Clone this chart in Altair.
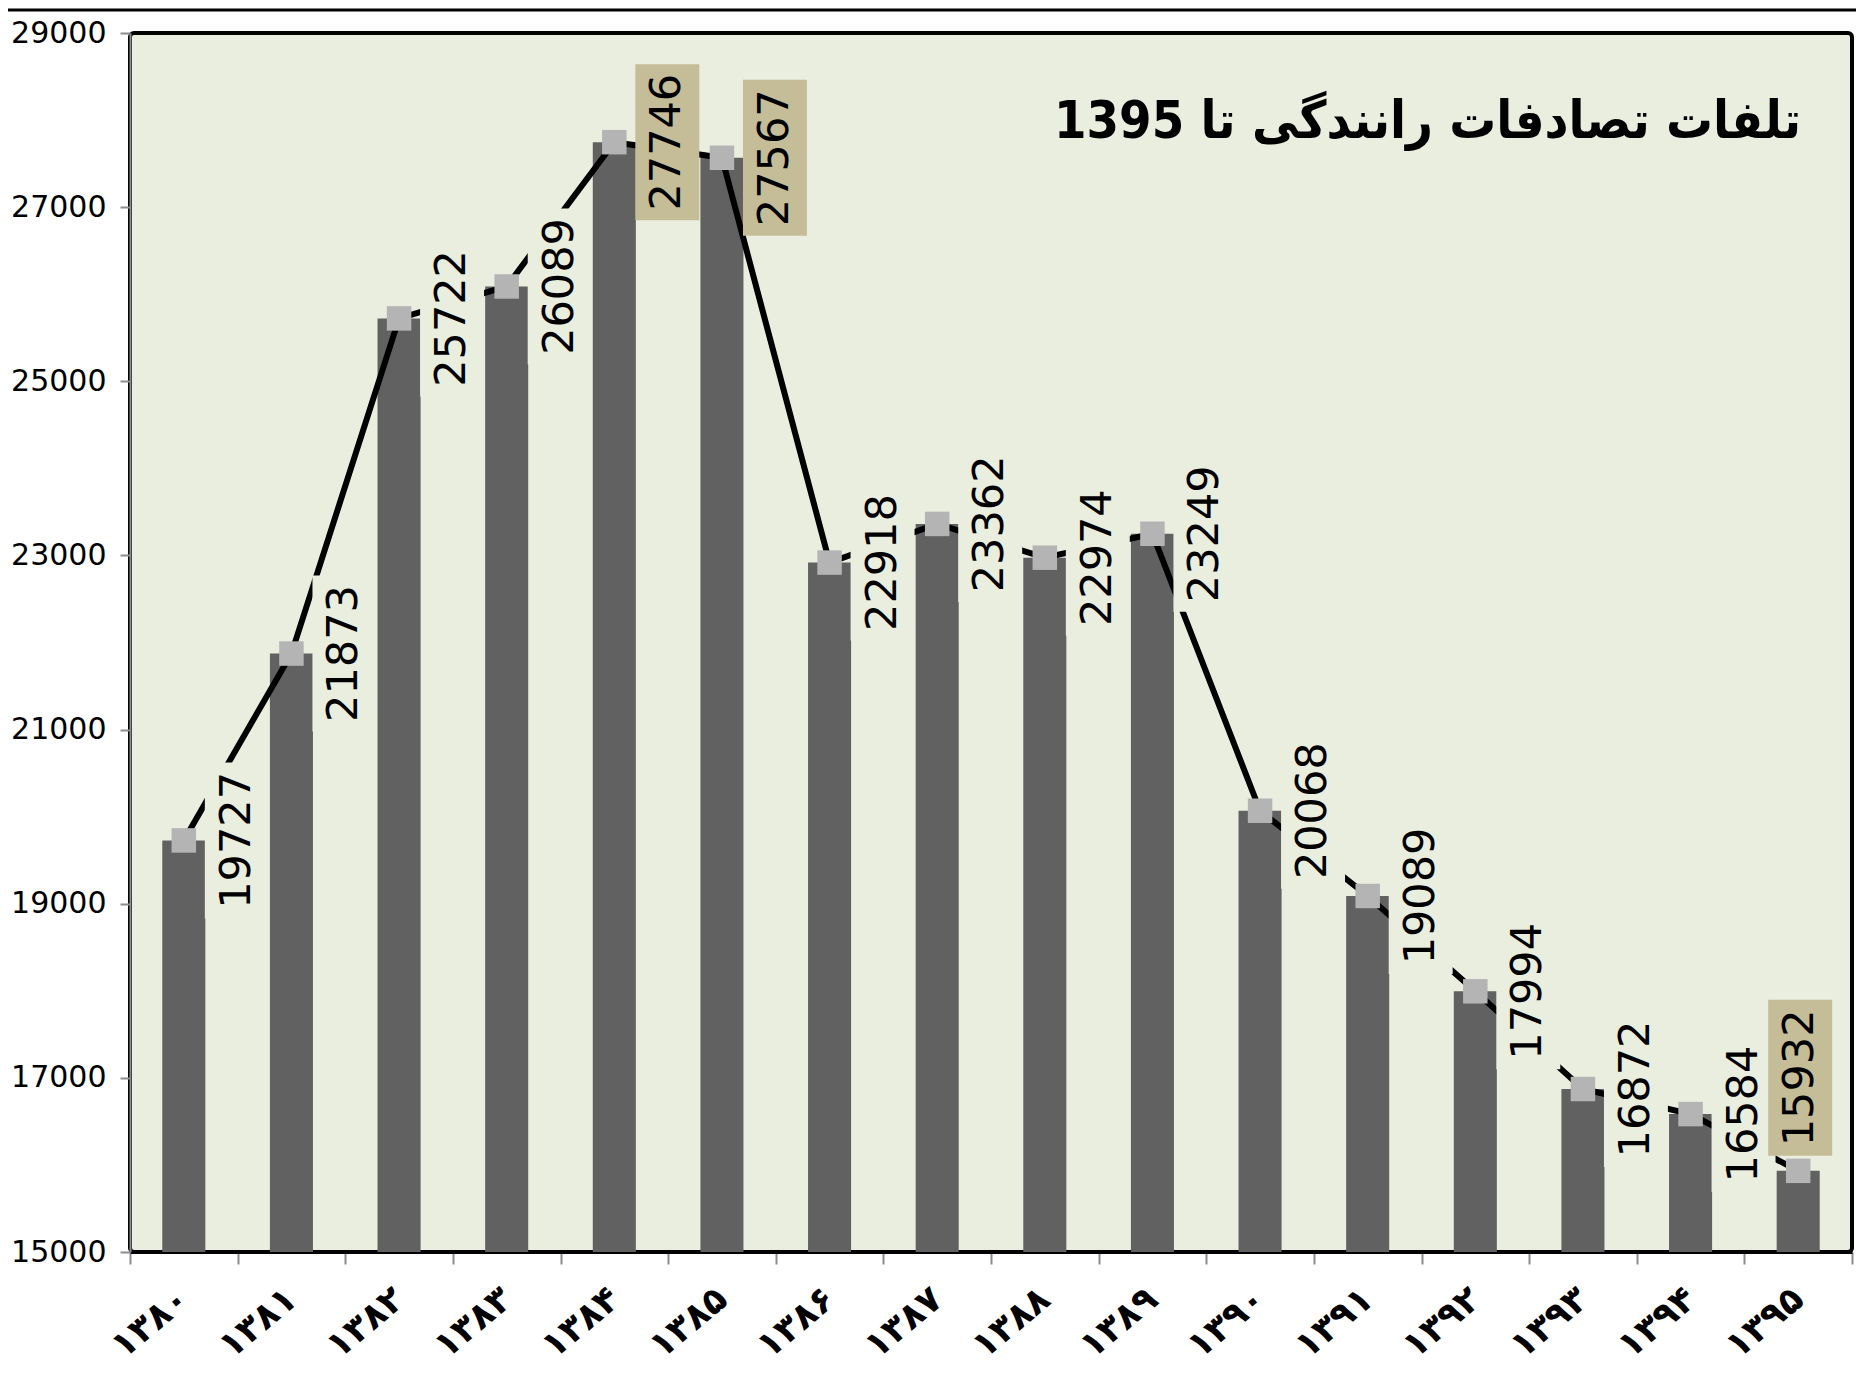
import altair as alt
import pandas as pd

years = ["۱۳۸۰", "۱۳۸۱", "۱۳۸۲", "۱۳۸۳", "۱۳۸۴", "۱۳۸۵", "۱۳۸۶", "۱۳۸۷",
         "۱۳۸۸", "۱۳۸۹", "۱۳۹۰", "۱۳۹۱", "۱۳۹۲", "۱۳۹۳", "۱۳۹۴", "۱۳۹۵"]
deaths = [19727, 21873, 25722, 26089, 27746, 27567, 22918, 23362,
          22974, 23249, 20068, 19089, 17994, 16872, 16584, 15932]
highlight = [False, False, False, False, True, True, False, False,
             False, False, False, False, False, False, False, True]
title_text = "\u202bتلفات تصادفات رانندگی تا 1395\u202c"
y_ticks = [15000, 17000, 19000, 21000, 23000, 25000, 27000, 29000]

BG = "#EAEEDF"
BAR = "#616161"
MARK = "#B4B4B4"
TAN = "#C4BD97"

df = pd.DataFrame({"year": years, "deaths": deaths, "hl": highlight,
                   "last": [i == len(years) - 1 for i in range(len(years))]})

W, H = 1722, 1219

x_enc = alt.X("year:N", sort=years, title=None,
              scale=alt.Scale(paddingInner=0, paddingOuter=0),
              axis=alt.Axis(labelAngle=-40, labelFont="DejaVu Sans", labelFontWeight="bold",
                            labelFontSize=36, labelColor="black", labelAlign="right",
                            labelBaseline="middle", labelPadding=30,
                            tickBand="extent", tickSize=12, tickWidth=2, tickColor="#8C8C8C",
                            domainColor="black", domainWidth=3))
y_enc = alt.Y("deaths:Q", title=None,
              scale=alt.Scale(domain=[15000, 29000], nice=False, zero=False),
              axis=alt.Axis(values=y_ticks, labelFont="DejaVu Sans", labelFontSize=30,
                            labelColor="black", labelPadding=14, tickSize=10, tickWidth=2,
                            tickColor="#8C8C8C", domainColor="#8C8C8C", domainWidth=2,
                            grid=False, format="d"))

base = alt.Chart(df)

bars = base.mark_bar(color=BAR, width=alt.RelativeBandSize(0.4)).encode(
    x=x_enc, y=y_enc, y2=alt.datum(15000))

line = base.mark_line(color="black", strokeWidth=6).encode(x=alt.X("year:N", sort=years), y="deaths:Q")

markers = base.mark_square(size=600, color=MARK, opacity=1).encode(
    x=alt.X("year:N", sort=years), y="deaths:Q")

box_path = "M-0.41,-1L0.41,-1L0.41,1L-0.41,1Z"
box_color = alt.condition(alt.datum.hl, alt.value(TAN), alt.value(BG))

boxes = base.transform_filter("!datum.last").mark_point(
    shape=box_path, size=156 * 156, filled=True, opacity=1, strokeWidth=0, xOffset=53
).encode(x=alt.X("year:N", sort=years), y="deaths:Q", color=box_color)

box_last = base.transform_filter("datum.last").mark_point(
    shape=box_path, size=156 * 156, filled=True, opacity=1, strokeWidth=0, xOffset=2, yOffset=-93
).encode(x=alt.X("year:N", sort=years), y="deaths:Q", color=box_color)

texts = base.transform_filter("!datum.last").mark_text(
    angle=270, font="DejaVu Sans", fontSize=43, color="black", align="center",
    baseline="middle", xOffset=53
).encode(x=alt.X("year:N", sort=years), y="deaths:Q", text=alt.Text("deaths:Q", format="d"))

text_last = base.transform_filter("datum.last").mark_text(
    angle=270, font="DejaVu Sans", fontSize=43, color="black", align="center",
    baseline="middle", xOffset=2, yOffset=-93
).encode(x=alt.X("year:N", sort=years), y="deaths:Q", text=alt.Text("deaths:Q", format="d"))

title = alt.Chart(pd.DataFrame({"t": [title_text]})).mark_text(
    font="DejaVu Sans Condensed", fontSize=52, fontWeight="bold",
    color="black", align="right", baseline="alphabetic"
).encode(x=alt.value(1671), y=alt.value(105), text="t:N")

frame_top = alt.Chart(pd.DataFrame({"a": [0]})).mark_rule(color="black", strokeWidth=3, clip=False).encode(
    x=alt.value(-127), x2=alt.value(W + 20), y=alt.value(-23))
frame_left = alt.Chart(pd.DataFrame({"a": [0]})).mark_rule(color="black", strokeWidth=3, clip=False).encode(
    x=alt.value(-127), y=alt.value(-23), y2=alt.value(H + 140))

chart = alt.layer(bars, line, markers, boxes, box_last, texts, text_last, title,
                  frame_top, frame_left).properties(
    width=W, height=H,
    autosize=alt.AutoSizeParams(type="none"),
    padding={"left": 122, "top": 25, "right": 4, "bottom": 120},
    background="white",
).configure_view(
    fill=BG, stroke="black", strokeWidth=4, cornerRadius=4
)

chart.save("out.html", embed_options={"renderer": "svg", "actions": False})
